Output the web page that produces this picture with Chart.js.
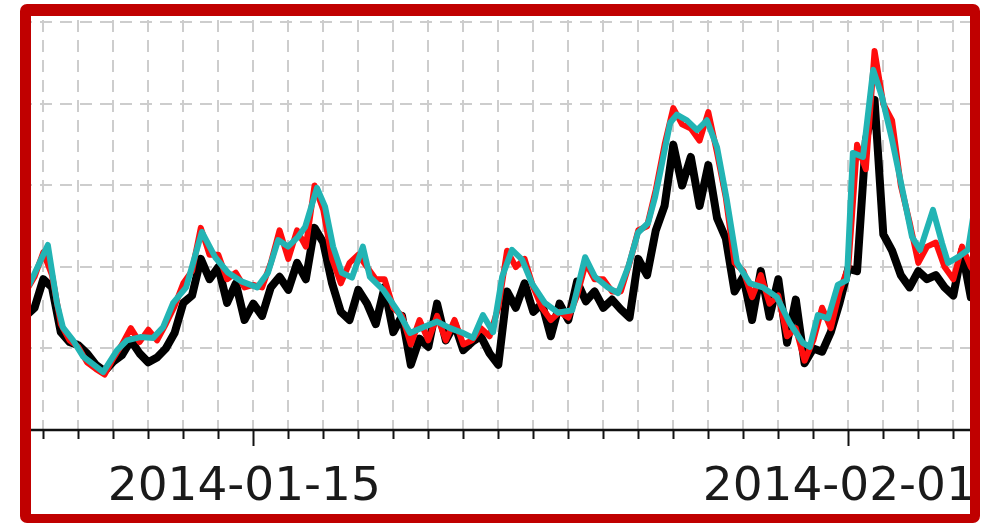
<!DOCTYPE html>
<html>
<head>
<meta charset="utf-8">
<script src="https://cdn.jsdelivr.net/npm/chart.js@4.4.0/dist/chart.umd.min.js"></script>
<style>
  html, body { margin: 0; padding: 0; background: #fff; }
  .frame {
    position: absolute;
    left: 20px;
    top: 4px;
    width: 960px;
    height: 519px;
    box-sizing: border-box;
    border-style: solid;
    border-color: #c00000;
    border-width: 12px 10px 9px 11px;
    border-radius: 7px;
    overflow: hidden;
    background: #fff;
  }
  #chart { position: absolute; left: -31px; top: -16px; }
</style>
</head>
<body>
<div class="frame">
  <canvas id="chart" width="981" height="524"></canvas>
</div>
<script>
// days counted from 2014-01-01 00:00
const tickDays = [14, 31];
const tickLabels = ["2014-01-15", "2014-02-01"];

// smooth fit (teal)
const fitDays = [7.4, 7.62, 8.13, 8.39, 8.56, 8.85, 9.14, 9.53, 9.71, 10.11, 10.39, 10.77, 11.14, 11.42, 11.71,
  12.08, 12.53, 12.91, 13.28, 13.68, 14.11, 14.42, 14.71, 14.99, 15.28, 15.48, 15.82, 16.05, 16.28, 16.53,
  16.82, 17.13, 17.33, 17.71, 18.11, 18.48, 18.85, 19.25, 19.62, 19.99, 20.28, 20.56, 20.85, 21.11, 21.39,
  21.68, 21.96, 22.33, 22.71, 23.11, 23.48, 23.76, 24.13, 24.42, 24.71, 24.99, 25.28, 25.48, 25.62, 25.91,
  26.10, 26.39, 26.68, 26.96, 27.25, 27.53, 27.82, 28.19, 28.56, 28.96, 29.33, 29.70, 29.90, 30.13, 30.42,
  30.70, 30.96, 31.13, 31.42, 31.71, 31.96, 32.25, 32.53, 32.82, 33.05, 33.42, 33.68, 33.85, 34.13, 34.42,
  34.62, 34.8];
const fitValues = [16.5, 18.0, 22.7, 15.6, 12.6, 11.0, 9.0, 7.7, 7.1, 9.8, 11.0, 11.4, 11.3, 12.6, 15.6,
  17.5, 24.3, 21.2, 19.3, 18.2, 17.5, 19.3, 23.3, 22.5, 23.7, 24.9, 29.7, 27.4, 22.5, 19.3,
  18.7, 22.5, 18.8, 17.2, 14.7, 11.9, 12.6, 13.3, 12.5, 11.9, 11.3, 14.1, 12.0, 18.8, 22.1,
  20.9, 18.0, 15.6, 14.4, 14.7, 21.2, 18.8, 17.5, 16.8, 20.0, 24.2, 25.4, 28.6, 31.5, 37.7,
  38.7, 38.0, 36.8, 38.0, 34.7, 28.2, 20.5, 18.0, 17.5, 16.3, 13.1, 10.7, 10.2, 14.1, 13.7,
  17.8, 18.4, 34.0, 33.5, 44.2, 40.9, 35.6, 29.8, 23.7, 22.1, 27.0, 22.9, 20.5, 21.2, 22.1,
  27.6, 31.0];

// six-hourly series, starting 2014-01-08 12:00
const sixHourly = Array.from({ length: 110 }, (_, i) => 7.5 + i * 0.25);

const observed = [
  14.0, 15.0, 18.5, 17.5, 12.0, 10.8, 10.4, 9.4, 8.0, 7.2,
  8.4, 9.2, 11.0, 9.4, 8.3, 8.9, 10.0, 11.9, 15.6, 16.5,
  21.0, 18.5, 20.0, 15.6, 18.0, 13.5, 15.5, 14.0, 17.5, 18.8,
  17.2, 20.5, 18.5, 24.8, 23.0, 18.0, 14.5, 13.5, 17.2, 15.5,
  13.0, 17.5, 12.0, 14.0, 8.0, 11.2, 10.2, 15.5, 11.0, 13.0,
  9.8, 10.8, 11.5, 9.4, 8.0, 17.0, 15.0, 18.0, 14.5, 15.5,
  11.5, 15.5, 13.5, 18.2, 15.8, 17.0, 15.0, 16.0, 14.8, 13.8,
  21.0, 19.0, 24.5, 27.5, 35.0, 30.0, 33.5, 27.5, 32.5, 26.0,
  23.5, 17.0, 18.8, 13.5, 19.5, 13.9, 18.5, 10.7, 16.0, 8.2,
  10.0, 9.6, 12.0, 15.6, 19.8, 19.5, 35.5, 40.5, 24.0, 22.0,
  19.0, 17.5, 19.5, 18.5, 19.0, 17.5, 16.5, 22.0, 16.3, 18.0];

const predicted = [
  17.0, 18.8, 21.8, 19.0, 13.0, 11.0, 10.2, 8.3, 7.5, 6.8,
  8.8, 10.5, 12.5, 10.8, 12.3, 11.0, 13.0, 15.2, 18.0, 19.5,
  24.8, 21.5, 21.5, 18.5, 19.3, 17.5, 17.8, 17.5, 20.5, 24.5,
  21.0, 24.5, 22.5, 30.0, 27.0, 21.0, 18.0, 20.5, 21.5, 20.0,
  18.5, 18.5, 15.0, 14.0, 10.5, 13.5, 11.0, 14.0, 11.0, 13.5,
  10.5, 11.0, 12.5, 11.5, 15.0, 22.0, 20.0, 21.0, 17.5, 15.0,
  13.5, 14.5, 13.8, 16.5, 20.5, 18.5, 18.5, 17.0, 17.0, 20.5,
  24.5, 25.0, 29.5, 35.0, 39.5, 37.5, 37.0, 35.5, 39.0, 34.0,
  28.5, 20.5, 19.5, 16.3, 19.0, 15.5, 16.5, 11.5, 12.5, 8.5,
  11.0, 15.0, 12.5, 17.0, 20.0, 35.0, 32.0, 46.5, 40.0, 38.0,
  30.0, 25.5, 20.5, 22.5, 23.0, 20.0, 18.5, 22.5, 20.0, 22.0];

const gridValues = [0, 10, 20, 30, 40, 50];

const xMin = 6.763;
const xMax = 34.791;
const yMax = 52.76;

function pairs(xs, ys) {
  return xs.map((x, i) => ({ x: x, y: ys[i] }));
}

// axis line plus day ticks (longer ones where a date is printed)
const axisTicks = {
  id: "axisTicks",
  afterDraw(chart) {
    const { ctx, chartArea, scales } = chart;
    const x = scales.x;
    ctx.save();
    ctx.strokeStyle = "#111";
    ctx.lineWidth = 2;
    x.ticks.forEach((t) => {
      const px = Math.round(x.getPixelForValue(t.value)) + 0.5;
      const len = tickDays.includes(t.value) ? 16 : 9;
      ctx.beginPath();
      ctx.moveTo(px, chartArea.bottom);
      ctx.lineTo(px, chartArea.bottom + len);
      ctx.stroke();
    });
    ctx.lineWidth = 2.5;
    ctx.beginPath();
    ctx.moveTo(chartArea.left, chartArea.bottom);
    ctx.lineTo(chartArea.right, chartArea.bottom);
    ctx.stroke();
    ctx.restore();
  },
};

const ctx = document.getElementById("chart");

const chart = new Chart(ctx, {
  type: "line",
  data: {
    datasets: [
      {
        label: "fit",
        data: pairs(fitDays, fitValues),
        borderColor: "#22b4b4",
        borderWidth: 6,
        pointRadius: 0,
        tension: 0,
        borderJoinStyle: "round",
        borderCapStyle: "round",
      },
      {
        label: "predicted",
        data: pairs(sixHourly, predicted),
        borderColor: "#ff0d0d",
        borderWidth: 6,
        pointRadius: 0,
        tension: 0,
        borderJoinStyle: "round",
        borderCapStyle: "round",
      },
      {
        label: "observed",
        data: pairs(sixHourly, observed),
        borderColor: "#000000",
        borderWidth: 8,
        pointRadius: 0,
        tension: 0,
        borderJoinStyle: "round",
        borderCapStyle: "round",
      },
    ],
  },
  options: {
    responsive: false,
    animation: false,
    layout: { padding: 0, autoPadding: false },
    plugins: {
      legend: { display: false },
      tooltip: { enabled: false },
    },
    scales: {
      x: {
        type: "linear",
        min: xMin,
        max: xMax,
        afterBuildTicks: (scale) => {
          const days = [];
          for (let d = Math.ceil(xMin); d <= xMax; d++) days.push({ value: d });
          scale.ticks = days;
        },
        afterFit: (scale) => {
          scale.height = 94;
        },
        // invisible tick marks only push the labels down; the real ones come from axisTicks
        grid: { color: "#cdcdcd", lineWidth: 2, drawTicks: true, tickLength: 30, tickColor: "rgba(0,0,0,0)" },
        border: { display: false, dash: [12, 8] },
        ticks: {
          autoSkip: false,
          maxRotation: 0,
          minRotation: 0,
          padding: 0,
          labelOffset: -9,
          color: "#1a1a1a",
          font: { family: "DejaVu Sans", size: 47 },
          callback: (v) => {
            const i = tickDays.indexOf(v);
            return i >= 0 ? tickLabels[i] : "";
          },
        },
      },
      y: {
        min: 0,
        max: yMax,
        afterBuildTicks: (scale) => {
          scale.ticks = gridValues.map((v) => ({ value: v }));
        },
        afterFit: (scale) => {
          scale.width = 0;
        },
        ticks: { display: false },
        grid: { color: "#cdcdcd", lineWidth: 2, drawTicks: false },
        border: { display: false, dash: [12, 8] },
      },
    },
  },
  plugins: [axisTicks],
});
</script>
</body>
</html>
